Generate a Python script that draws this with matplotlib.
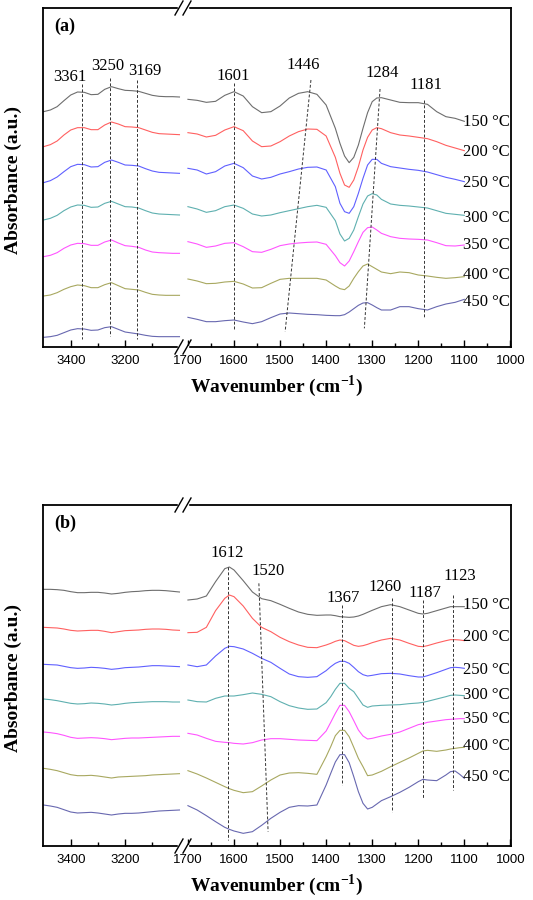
import numpy as np
import matplotlib
matplotlib.use("Agg")
import matplotlib.pyplot as plt
from matplotlib.lines import Line2D

plt.rcParams['mathtext.fontset'] = 'custom'
plt.rcParams['mathtext.rm'] = 'Liberation Serif'
plt.rcParams['mathtext.bf'] = 'Liberation Serif:bold'

temps = ['150 °C', '200 °C', '250 °C', '300 °C', '350 °C', '400 °C', '450 °C']
colors = ['#6e6e6e', '#ff6060', '#6060ff', '#5fb0b0', '#ff55ff', '#a8a860', '#6868b0']

# wavenumber grids (cm-1)
wn_hi = [3500, 3475, 3450, 3425, 3400, 3375, 3350, 3325, 3300, 3275, 3250,
         3225, 3200, 3175, 3150, 3125, 3100, 3075, 3050, 3025, 3000]
wn_a = [1700, 1680, 1660, 1640, 1620, 1600, 1580, 1560, 1540, 1520, 1500, 1480,
        1460, 1440, 1420, 1400, 1380, 1370, 1360, 1350, 1340, 1330, 1320, 1310,
        1300, 1290, 1280, 1260, 1240, 1220, 1200, 1180, 1160, 1140, 1120, 1100]
wn_b = [1700, 1680, 1660, 1640, 1620, 1610, 1600, 1580, 1560, 1540, 1520, 1500,
        1480, 1460, 1440, 1420, 1400, 1390, 1380, 1370, 1360, 1350, 1340, 1330,
        1320, 1310, 1300, 1280, 1260, 1240, 1220, 1200, 1190, 1180, 1160, 1140,
        1130, 1120, 1110, 1100]

# stacked traces (bigger = lower)
a_hi = [
    [155, 150, 140, 122, 105, 96, 97, 104, 103, 88, 80, 86, 91, 92, 94, 100, 106, 109, 110, 110, 111],
    [260, 254, 243, 225, 210, 203, 203, 209, 209, 195, 186, 192, 200, 201, 203, 210, 217, 221, 222, 223, 224],
    [368, 362, 351, 335, 320, 313, 314, 321, 320, 307, 300, 307, 315, 316, 318, 326, 333, 337, 338, 339, 340],
    [480, 475, 466, 452, 441, 435, 436, 442, 441, 430, 424, 432, 440, 441, 444, 452, 459, 462, 463, 464, 465],
    [590, 586, 578, 565, 555, 550, 551, 556, 556, 546, 540, 549, 557, 559, 562, 570, 576, 578, 579, 580, 580],
    [708, 705, 698, 688, 680, 675, 677, 683, 683, 674, 668, 677, 686, 688, 690, 697, 703, 705, 706, 706, 706],
    [832, 830, 826, 818, 810, 806, 807, 811, 810, 803, 800, 808, 816, 819, 822, 826, 829, 830, 830, 830, 830],
]
a_lo = [
    [118, 121, 127, 124, 106, 95, 108, 140, 158, 155, 138, 114, 100, 95, 103, 135, 205, 250,
     288, 308, 292, 255, 205, 158, 125, 114, 113, 120, 127, 128, 128, 133, 155, 170, 175, 184],
    [218, 222, 231, 226, 210, 200, 212, 243, 260, 258, 245, 228, 215, 207, 208, 228, 292, 340,
     375, 382, 360, 320, 270, 232, 210, 203, 206, 218, 225, 228, 232, 236, 245, 256, 264, 272],
    [325, 330, 342, 335, 318, 310, 323, 348, 357, 352, 342, 335, 327, 322, 321, 330, 380, 430,
     455, 460, 440, 400, 355, 315, 298, 298, 310, 320, 324, 328, 331, 336, 344, 352, 358, 365],
    [440, 447, 457, 452, 440, 435, 445, 462, 468, 465, 458, 452, 446, 440, 436, 442, 482, 522,
     543, 535, 510, 470, 432, 408, 401, 405, 418, 432, 436, 438, 441, 444, 452, 460, 463, 466],
    [545, 552, 562, 558, 550, 548, 560, 575, 577, 568, 557, 552, 549, 547, 546, 553, 587, 608,
     618, 603, 575, 545, 517, 503, 501, 510, 520, 530, 535, 537, 538, 540, 548, 557, 558, 555],
    [657, 663, 671, 670, 666, 664, 672, 684, 683, 670, 658, 655, 655, 655, 655, 660, 678, 686,
     689, 678, 655, 635, 618, 612, 620, 628, 636, 641, 636, 638, 645, 648, 652, 655, 653, 650],
    [772, 778, 785, 785, 782, 780, 786, 791, 785, 773, 762, 759, 761, 763, 764, 766, 767, 767,
     764, 756, 746, 736, 729, 728, 735, 743, 750, 750, 740, 740, 746, 750, 740, 732, 727, 718],
]
b_hi = [
    [118, 118, 119, 121, 125, 128, 128, 127, 127, 129, 132, 130, 127, 125, 124, 122, 121, 121, 122, 124, 126],
    [232, 233, 234, 237, 241, 243, 242, 241, 241, 244, 248, 245, 242, 241, 240, 238, 237, 237, 238, 240, 241],
    [343, 344, 345, 349, 353, 355, 354, 352, 353, 355, 358, 356, 353, 352, 351, 349, 347, 347, 348, 349, 350],
    [447, 449, 452, 456, 460, 462, 461, 459, 460, 462, 465, 463, 460, 458, 457, 456, 455, 455, 455, 456, 456],
    [546, 548, 551, 556, 562, 565, 564, 563, 564, 566, 569, 567, 565, 564, 564, 563, 562, 561, 560, 559, 559],
    [655, 658, 662, 668, 674, 677, 677, 676, 678, 681, 684, 681, 680, 679, 678, 677, 675, 674, 673, 672, 671],
    [765, 768, 772, 779, 786, 789, 788, 787, 789, 792, 795, 792, 790, 790, 789, 787, 785, 783, 782, 781, 780],
]
b_lo = [
    [150, 147, 138, 95, 56, 51, 60, 92, 126, 146, 152, 163, 175, 186, 193, 196, 195, 195, 197, 200,
     201, 202, 201, 198, 193, 187, 181, 170, 164, 170, 180, 190, 192, 190, 182, 174, 170, 170, 170, 170],
    [248, 247, 232, 182, 145, 135, 140, 168, 205, 232, 245, 262, 275, 285, 292, 293, 285, 280, 274, 270,
     272, 279, 286, 289, 287, 283, 278, 270, 265, 270, 280, 289, 290, 287, 279, 272, 269, 269, 270, 272],
    [345, 350, 345, 318, 295, 289, 290, 297, 310, 325, 337, 355, 372, 380, 382, 380, 362, 350, 340, 334,
     334, 340, 352, 365, 374, 378, 376, 371, 370, 372, 377, 381, 381, 377, 368, 358, 353, 352, 353, 355],
    [450, 455, 456, 445, 438, 438, 438, 434, 429, 433, 440, 455, 467, 474, 478, 477, 458, 440, 418, 400,
     400, 415, 425, 445, 465, 472, 468, 466, 465, 464, 461, 459, 457, 454, 447, 440, 436, 435, 436, 437],
    [550, 555, 565, 574, 577, 578, 580, 582, 578, 570, 566, 566, 568, 570, 571, 572, 543, 517, 490, 466,
     466, 485, 512, 540, 558, 567, 565, 558, 553, 546, 535, 524, 521, 517, 513, 509, 508, 507, 506, 506],
    [662, 672, 684, 697, 710, 716, 721, 728, 725, 708, 690, 675, 669, 668, 670, 673, 620, 590, 557, 541,
     541, 560, 592, 625, 650, 677, 675, 664, 650, 637, 624, 610, 603, 601, 604, 600, 597, 595, 593, 592],
    [767, 780, 797, 815, 832, 838, 843, 850, 845, 826, 805, 787, 772, 767, 768, 765, 705, 670, 636, 614,
     614, 638, 680, 725, 760, 777, 772, 752, 740, 727, 712, 695, 688, 690, 692, 675, 665, 663, 673, 685],
]

# peak markers: label, (w_top, y_top), (w_bottom, y_bottom), label position
a_marks_hi = [('3361', 3357, 72, 3357, 838, 3404, 51),
              ('3250', 3255, 55, 3255, 828, 3262, 18),
              ('3169', 3155, 60, 3155, 838, 3127, 33)]
a_marks_lo = [('1601', 1601, 69, 1601, 810, 1602, 48),
              ('1446', 1433, 60, 1489, 815, 1450, 15),
              ('1284', 1283, 87, 1317, 805, 1279, 40),
              ('1181', 1187, 120, 1187, 775, 1183, 75)]
b_marks_lo = [('1612', 1614, 50, 1614, 870, 1615, 10),
              ('1520', 1546, 100, 1526, 845, 1527, 63),
              ('1367', 1365, 165, 1365, 705, 1363, 145),
              ('1260', 1258, 145, 1258, 785, 1272, 112),
              ('1187', 1189, 150, 1189, 745, 1185, 129),
              ('1123', 1124, 135, 1124, 720, 1109, 78)]
a_temp_y = [186, 276, 369, 474, 555, 645, 726]
b_temp_y = [165, 261, 360, 435, 507, 588, 681]

W, H = 533, 900
fig = plt.figure(figsize=(W / 100, H / 100), dpi=100)
serif = 'Liberation Serif'
SPLIT = 183


def box(x0, x1, ytop, ybot):
    return [x0 / W, 1 - ybot / H, (x1 - x0) / W, (ybot - ytop) / H]


def style(ax, major, minor):
    ax.set_xticks(major)
    ax.set_xticks(minor, minor=True)
    ax.tick_params(axis='x', which='both', direction='in', top=False, pad=6,
                   labelsize=9.5)
    ax.tick_params(axis='x', which='major', length=5, width=1)
    ax.tick_params(axis='x', which='minor', length=3, width=1)
    ax.tick_params(axis='y', left=False, right=False, labelleft=False)
    for lab in ax.get_xticklabels():
        lab.set_family('Liberation Sans')
    for s in ax.spines.values():
        s.set_linewidth(1.3)


def panel(ytop, ybot, ylim, hi, lo, wn_lo, marks_hi, marks_lo, temp_y, letter):
    ax_hi = fig.add_axes(box(43, SPLIT, ytop, ybot))
    ax_lo = fig.add_axes(box(SPLIT, 511, ytop, ybot))
    ax_hi.set_xlim(3502, 2987)
    ax_lo.set_xlim(1710.7, 998.7)
    for ax in (ax_hi, ax_lo):
        ax.set_ylim(*ylim)
    ax_hi.spines['right'].set_visible(False)
    ax_lo.spines['left'].set_visible(False)
    style(ax_hi, [3400, 3200], [3300, 3100])
    style(ax_lo, list(range(1700, 999, -100)), list(range(1650, 1000, -100)))

    for i in range(len(temps)):
        ax_hi.plot(wn_hi, hi[i], color=colors[i], lw=0.8)
        ax_lo.plot(wn_lo, lo[i], color=colors[i], lw=0.8)
        ax_lo.text(1103, temp_y[i], temps[i], ha='left', va='center',
                   fontsize=12, family=serif)

    for ax, marks in ((ax_hi, marks_hi), (ax_lo, marks_lo)):
        for lab, w0, y0, w1, y1, wl, yl in marks:
            ax.plot([w0, w1], [y0, y1], ls=(0, (3, 2)), color='#333333', lw=0.7)
            ax.text(wl, yl, lab, ha='center', va='center', fontsize=12, family=serif)

    # axis break marks
    for yb in (ytop, ybot):
        fig.add_artist(Line2D([(SPLIT - 4) / W, (SPLIT + 4) / W], [1 - yb / H] * 2,
                              color='white', lw=2.5))
        for xc in (SPLIT - 4, SPLIT + 4):
            fig.add_artist(Line2D([(xc - 4) / W, (xc + 4) / W],
                                  [1 - (yb + 7) / H, 1 - (yb - 7) / H],
                                  color='black', lw=1))

    fig.text(65 / W, 1 - (ytop + 18) / H, letter, ha='center', va='center',
             fontsize=13, weight='bold', family=serif)
    fig.text(277 / W, 1 - (ybot + 39) / H, r'Wavenumber (cm$^{\mathbf{-1}}$)',
             ha='center', va='center', fontsize=14, weight='bold', family=serif)
    fig.text(13 / W, 1 - ((ytop + ybot) / 2 + 3) / H, 'Absorbance (a.u.)',
             rotation=90, ha='center', va='center', fontsize=14, weight='bold',
             family=serif)


panel(8, 347, (861, -156), a_hi, a_lo, wn_a, a_marks_hi, a_marks_lo, a_temp_y, '(a)')
panel(505, 846, (888, -135), b_hi, b_lo, wn_b, [], b_marks_lo, b_temp_y, '(b)')

fig.savefig('out.png', dpi=100, facecolor='white')
